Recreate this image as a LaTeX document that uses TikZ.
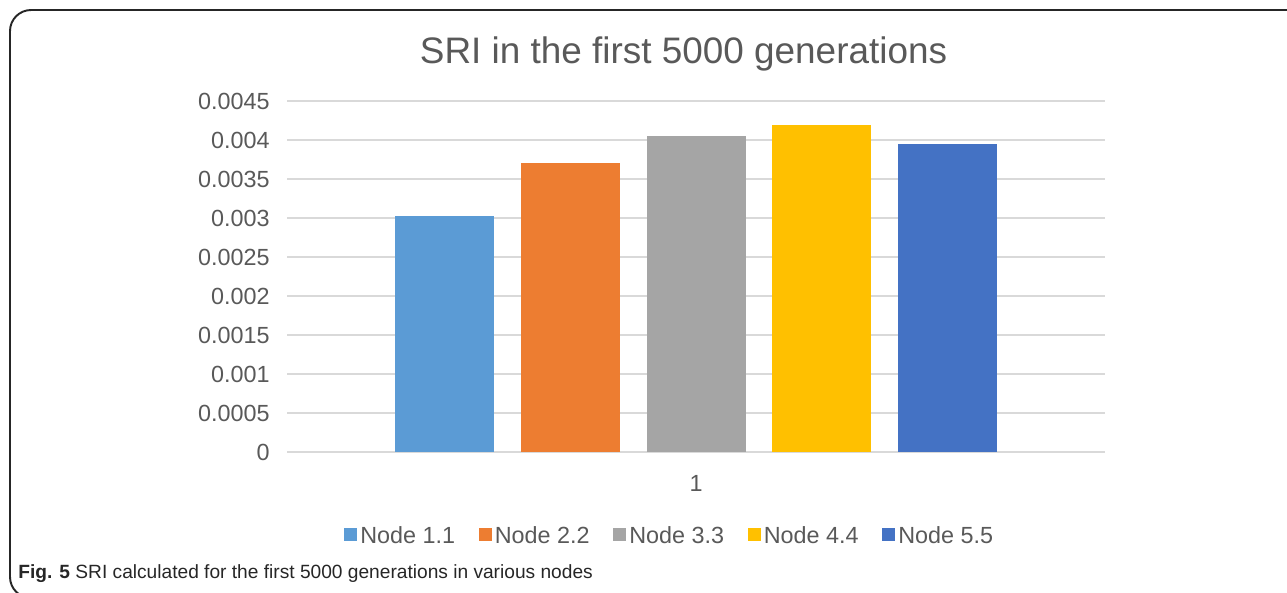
\documentclass[tikz,border=0pt]{standalone}
\usepackage{fontspec}
\setmainfont{Liberation Sans}
\usepackage{xcolor}
\usepackage{tikz}
\usetikzlibrary{positioning, calc}
\definecolor{txtGray}{HTML}{595959}
\definecolor{gridGray}{HTML}{D9D9D9}
\definecolor{nodeBlue}{HTML}{5B9BD5}
\definecolor{nodeOrange}{HTML}{ED7D31}
\definecolor{nodeGray}{HTML}{A5A5A5}
\definecolor{nodeGold}{HTML}{FFC000}
\definecolor{nodeNavy}{HTML}{4472C4}
\tikzset{
  gridline/.style={gridGray, line width=0.9pt},
  framebox/.style={black!85, line width=1.1pt, rounded corners=12},
  ticklabel/.style={anchor=east, font=\fontsize{13.3}{15}\selectfont},
  legendtext/.style={anchor=west, font=\fontsize{13.3}{15}\selectfont}
}

\begin{document}
\begin{tikzpicture}[x=0.02cm, y=-0.02cm, every node/.style={inner sep=0pt, text=txtGray}]
  \useasboundingbox (0,0) rectangle (1287,592);
  \clip (0,0) rectangle (1287,592);
  \coordinate (O) at (287,452);   % origin of plot
  \coordinate (E) at (1105,452);

  \draw[framebox] (1320,10) -- (10,10) -- (10,598) -- (60,598);

  \node[anchor=base, font=\fontsize{21}{24}\selectfont] (title) at (683.5,63) {SRI in the first 5000 generations};

  % grid and tick labels
  \foreach \i/\lbl in {0/0, 1/0.0005, 2/0.001, 3/0.0015, 4/0.002, 5/0.0025, 6/0.003, 7/0.0035, 8/0.004, 9/0.0045} {
    \draw[gridline] ($(O)+(0,-39*\i)$) -- ($(E)+(0,-39*\i)$);
    \node[ticklabel] (tick\i) at ($(O)+(-17,-39*\i)$) {\lbl};
  }

  % bars, value in units of 0.001
  \foreach \i/\val/\col in {0/3.02/nodeBlue, 1/3.71/nodeOrange, 2/4.05/nodeGray, 3/4.19/nodeGold, 4/3.95/nodeNavy} {
    \fill[\col] (395+125.75*\i,452) rectangle ++(99,-78*\val);
  }

  \node[font=\fontsize{13.3}{15}\selectfont] (xlabel) at (696,483) {1};

  % legend
  \foreach \i/\lbl/\col in {0/1.1/nodeBlue, 1/2.2/nodeOrange, 2/3.3/nodeGray, 3/4.4/nodeGold, 4/5.5/nodeNavy} {
    \fill[\col] (344+134.5*\i,528) rectangle ++(13,13);
    \node[legendtext] (leg\i) at (360+134.5*\i,535) {Node \lbl};
  }

  \node[anchor=base west, text=black!85, font=\fontsize{10.9}{12}\selectfont] (caption) at (18,578) {\textbf{Fig. 5} SRI calculated for the first 5000 generations in various nodes};
\end{tikzpicture}
\end{document}
